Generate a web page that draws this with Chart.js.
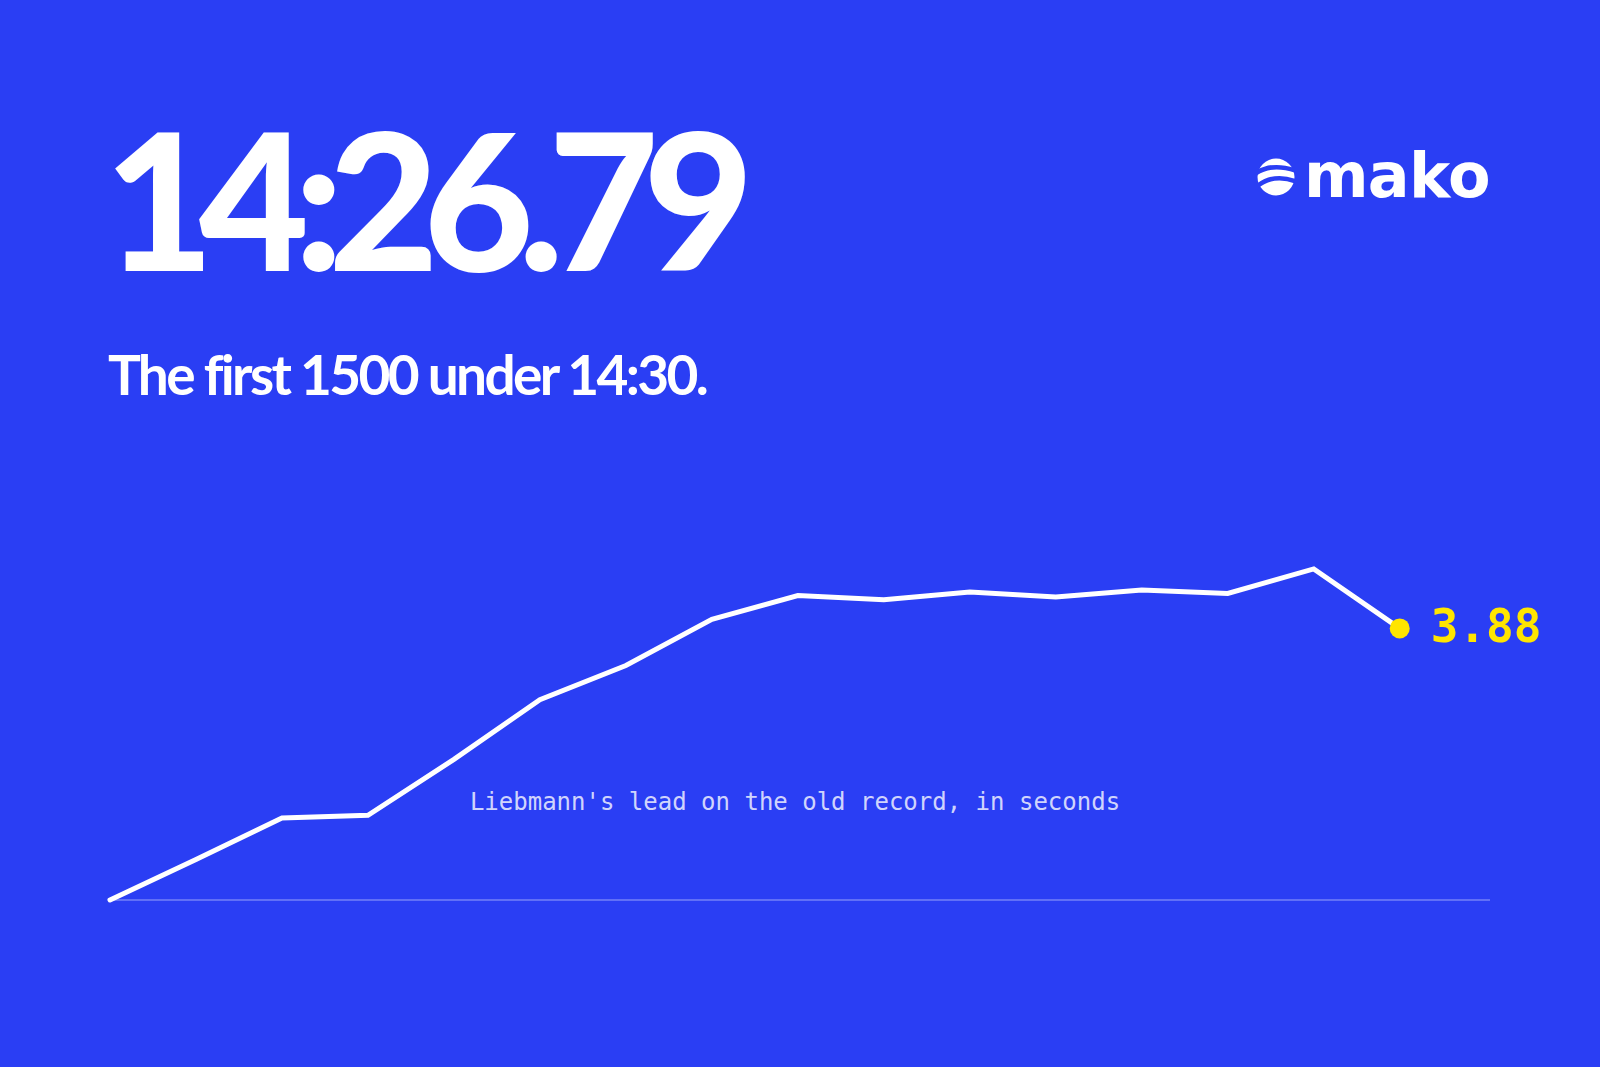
<!DOCTYPE html>
<html>
<head>
<meta charset="utf-8">
<script src="https://cdn.jsdelivr.net/npm/chart.js@4.4.1/dist/chart.umd.min.js"></script>
<style>
  html, body { margin: 0; padding: 0; }
  body { width: 1600px; height: 1067px; background: #2A3EF4; position: relative; overflow: hidden; font-family: Lato, sans-serif; color: #fff; }
  #chart { position: absolute; left: 0; top: 0; }
  .time { position: absolute; left: 104px; top: 102px; font-size: 190px; font-weight: 900; line-height: 1; letter-spacing: -0.08em; }
  .sub { position: absolute; left: 108px; top: 347px; font-size: 55px; font-weight: 700; line-height: 1; letter-spacing: -0.048em; }
  .logo { position: absolute; right: 110px; top: 145px; height: 70px; display: flex; align-items: flex-start; }
  .logo span { font-family: "DejaVu Sans", sans-serif; font-size: 62px; font-weight: 700; line-height: 1; letter-spacing: -0.01em; }
  .logo svg { margin-right: 9px; margin-top: 13px; }
  .label { position: absolute; left: 0; width: 1590px; top: 788px; text-align: center; font-family: "DejaVu Sans Mono", monospace; font-size: 24px; color: rgba(255,255,255,0.8); }
</style>
</head>
<body>
<div class="time">14:26.79</div>
<div class="sub">The first 1500 under 14:30.</div>
<div class="logo">
  <svg width="38" height="38" viewBox="0 0 38 38">
    <circle cx="19" cy="19" r="18.5" fill="#fff"/>
    <g fill="none" stroke="#2A3EF4" stroke-width="4.5">
      <path d="M-2 16 Q 14 4 40 13"/>
      <path d="M-2 30 Q 16 14 40 24"/>
    </g>
  </svg>
  <span>mako</span>
</div>
<div class="label">Liebmann's lead on the old record, in seconds</div>
<canvas id="chart" width="1600" height="1067"></canvas>
<script>
const distances = [0, 100, 200, 300, 400, 500, 600, 700, 800, 900, 1000, 1100, 1200, 1300, 1400, 1500];
const lead = [0, 0.58, 1.17, 1.21, 2.01, 2.86, 3.35, 4.01, 4.35, 4.29, 4.40, 4.33, 4.43, 4.38, 4.73, 3.88];
const finalLabel = '3.88';

const last = lead.length - 1;

const baseline = {
  id: 'baseline',
  beforeDatasetsDraw(chart) {
    const { ctx, chartArea, scales } = chart;
    const y = scales.y.getPixelForValue(0);
    ctx.save();
    ctx.strokeStyle = 'rgba(255,255,255,0.35)';
    ctx.lineWidth = 1.5;
    ctx.beginPath();
    ctx.moveTo(chartArea.left, y);
    ctx.lineTo(chartArea.right, y);
    ctx.stroke();
    ctx.restore();
  },
  afterDatasetsDraw(chart) {
    const { ctx } = chart;
    const pt = chart.getDatasetMeta(0).data[last];
    ctx.save();
    ctx.fillStyle = '#FFE500';
    ctx.font = 'bold 46px "DejaVu Sans Mono", monospace';
    ctx.textBaseline = 'middle';
    ctx.fillText(finalLabel, pt.x + 31, pt.y + 2);
    ctx.restore();
  }
};

new Chart(document.getElementById('chart'), {
  type: 'line',
  data: {
    datasets: [{
      data: distances.map((d, i) => ({ x: d, y: lead[i] })),
      borderColor: '#fff',
      borderWidth: 5,
      tension: 0,
      fill: false,
      clip: false,
      borderCapStyle: 'round',
      pointRadius: c => c.dataIndex === last ? 10 : 0,
      pointBackgroundColor: '#FFE500',
      pointBorderWidth: 0
    }]
  },
  options: {
    responsive: false,
    animation: false,
    layout: { padding: { left: 110, right: 110, top: 550, bottom: 167 } },
    scales: {
      x: { type: 'linear', min: 0, max: 1605, display: false },
      y: { min: 0, max: 5, display: false }
    },
    plugins: { legend: { display: false }, tooltip: { enabled: false } }
  },
  plugins: [baseline]
});
</script>
</body>
</html>
